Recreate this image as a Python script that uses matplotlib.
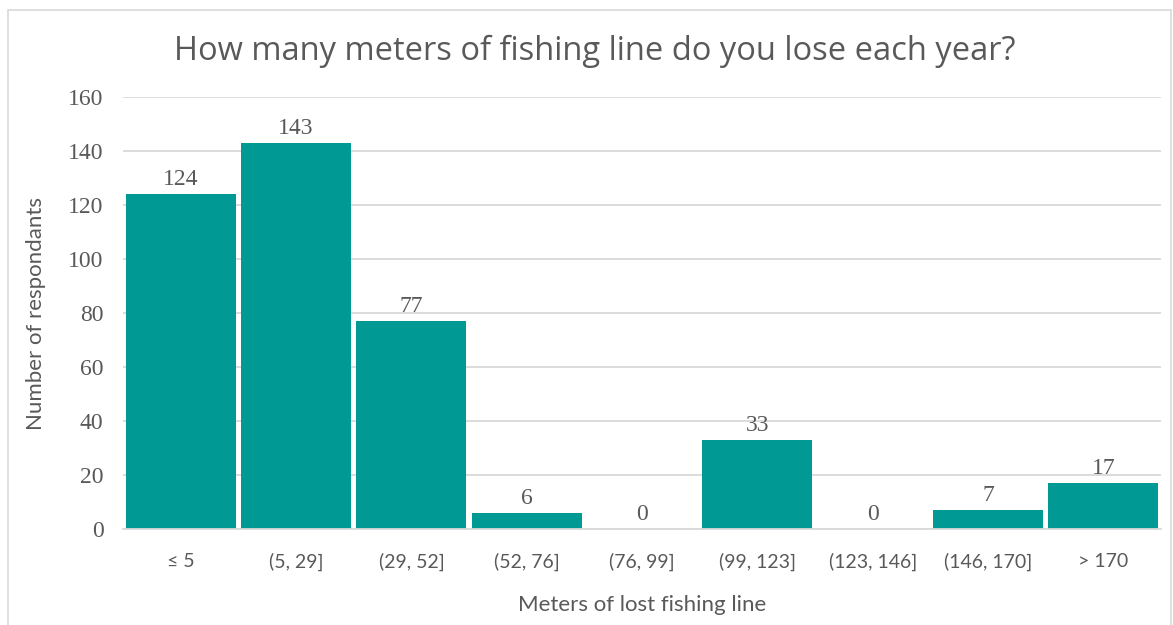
import matplotlib.pyplot as plt
from matplotlib.patches import Rectangle

# Survey answers
categories = ["≤ 5", "(5, 29]", "(29, 52]", "(52, 76]", "(76, 99]",
              "(99, 123]", "(123, 146]", "(146, 170]", "> 170"]
respondents = [124, 143, 77, 6, 0, 33, 0, 7, 17]
y_ticks = [0, 20, 40, 60, 80, 100, 120, 140, 160]

TEAL = "#009994"
GREY = "#595959"

fig = plt.figure(figsize=(11.73, 6.25), dpi=100)
ax = fig.add_axes([0.1049, 0.1536, 0.8849, 0.6912])

x = range(len(categories))
bars = ax.bar(x, respondents, width=0.955, color=TEAL, zorder=3)

for b, v in zip(bars, respondents):
    ax.text(b.get_x() + b.get_width() / 2, v + 1.5, str(v), ha="center", va="bottom",
            fontsize=17, color=GREY, family="Liberation Serif")

ax.set_xlim(-0.5, len(categories) - 0.5)
ax.set_ylim(0, 160)
ax.set_yticks(y_ticks)
ax.set_yticklabels([str(t) for t in y_ticks], family="Liberation Serif", fontsize=17, color=GREY)
ax.set_xticks(list(x))
ax.set_xticklabels(categories, family="Lato", fontsize=14, color=GREY)
ax.tick_params(axis="both", length=0)
ax.tick_params(axis="x", pad=17)
ax.tick_params(axis="y", pad=14)

ax.grid(axis="y", color="#d9d9d9", linewidth=1.3, zorder=0)
for s in ["top", "right", "left"]:
    ax.spines[s].set_visible(False)
ax.spines["bottom"].set_color("#d9d9d9")
ax.spines["bottom"].set_linewidth(1.3)
ax.spines["bottom"].set_zorder(4)

ax.set_xlabel("Meters of lost fishing line", family="Lato", fontsize=16, color=GREY, labelpad=17)
ax.set_ylabel("Number of respondants", family="Lato", fontsize=16, color=GREY, labelpad=16)

fig.text(0.507, 0.918, "How many meters of fishing line do you lose each year?",
         ha="center", va="center", family="Open Sans", fontsize=23.5, color=GREY)

# outer chart frame
fig.patches.append(Rectangle((8 / 1173, -0.05), 1163 / 1173, 1 - 10 / 625 + 0.05,
                             transform=fig.transFigure, fill=False,
                             edgecolor="#d9d9d9", linewidth=1.2))

fig.savefig("out.png", dpi=100)
